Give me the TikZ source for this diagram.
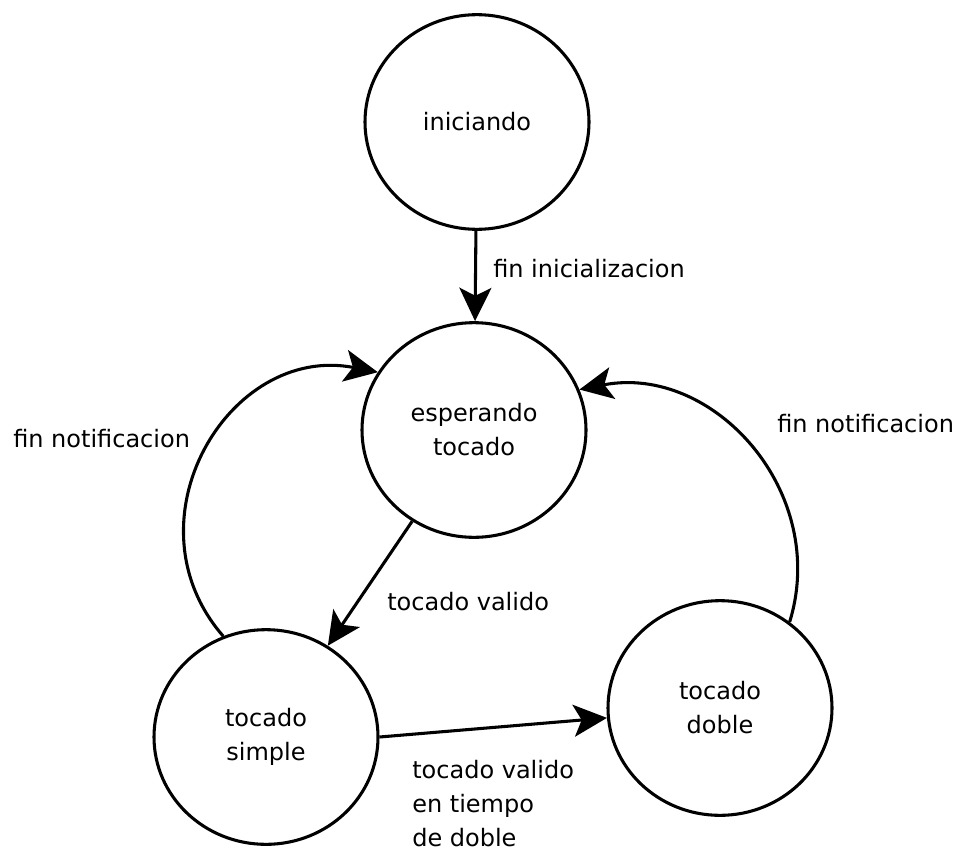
\documentclass[tikz,border=0pt]{standalone}
\usepackage{fontspec}
\setmainfont{DejaVu Sans}
\usetikzlibrary{shapes.geometric,arrows.meta}
\newcommand\statefont{\fontsize{18}{25.5}\selectfont}
\begin{document}
\begin{tikzpicture}[x=0.75pt,y=-0.75pt,
  state/.style={ellipse,draw,line width=2.3pt,minimum width=168pt,minimum height=161pt,
    inner sep=0pt,align=center,font=\statefont},
  arr/.style={line width=2.3pt,-{Stealth[length=25pt,width=24pt,inset=6pt]}},
  lbl/.style={anchor=base west,inner sep=0pt,font=\statefont}]
\useasboundingbox (0,0) rectangle (960,853);

% states
\node[state] (ini) at (477,122) {iniciando};
\node[state] (esp) at (474,430) {esperando\\tocado};
\node[state] (sim) at (266,737) {tocado\\simple};
\node[state] (dob) at (720,708) {tocado\\doble};

% transitions
\draw[arr] (ini) -- (esp);
\draw[arr] (esp) -- (sim);
\draw[arr] (sim.east) -- (dob.185);
\draw[arr] (sim.113) .. controls +(-100,-115) and +(-149,-29) .. (esp.149);
\draw[arr] (dob.51) .. controls +(40,-130) and +(134,-26) .. (esp.21);

% transition labels
\node[lbl] (linit) at (493,277) {fin inicializacion};
\node[lbl] (lval) at (387,610) {tocado valido};
\node[lbl] (lnotl) at (13,447) {fin notificacion};
\node[lbl] (lnotr) at (777,432) {fin notificacion};
\node[anchor=west,inner sep=0pt,align=left,font=\statefont] (ldob) at (412,804)
  {tocado valido\\en tiempo\\de doble};
\end{tikzpicture}
\end{document}
